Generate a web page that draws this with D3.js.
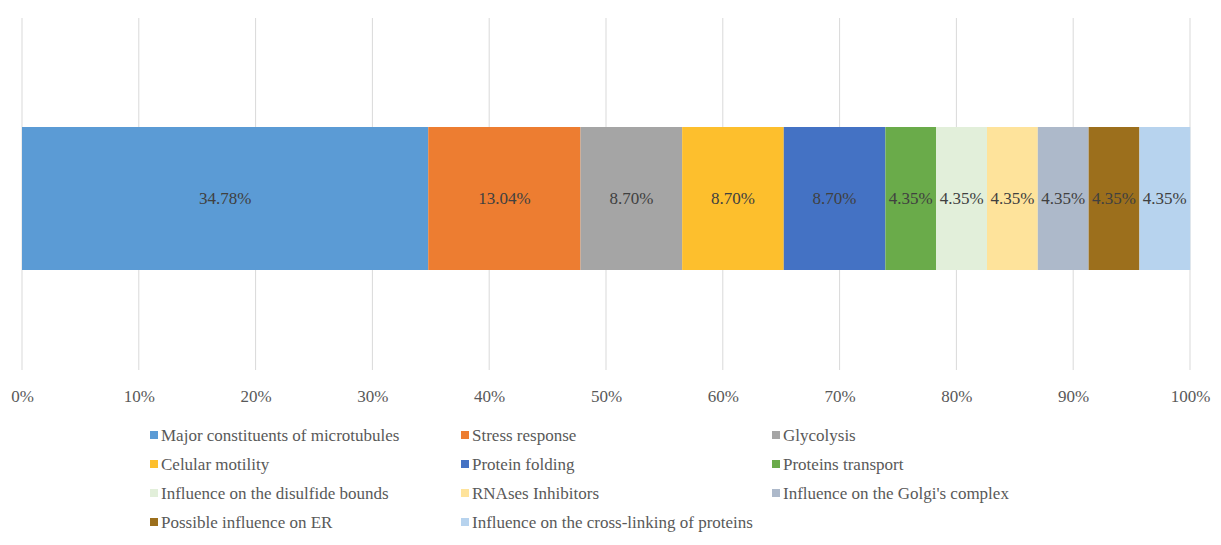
<!DOCTYPE html>
<html>
<head>
<meta charset="utf-8">
<script src="https://cdn.jsdelivr.net/npm/d3@7"></script>
</head>
<body style="margin:0">
<svg id="chart"></svg>
<script>
// Set the width and height of the chart
const width = 1221;
const height = 545;
const serif = "'Times New Roman'";

// Data
const categories = [
  "Major constituents of microtubules",
  "Stress response",
  "Glycolysis",
  "Celular motility",
  "Protein folding",
  "Proteins transport",
  "Influence on the disulfide bounds",
  "RNAses Inhibitors",
  "Influence on the Golgi's complex",
  "Possible influence on ER",
  "Influence on the cross-linking of proteins"
];
const values = [34.78, 13.04, 8.7, 8.7, 8.7, 4.35, 4.35, 4.35, 4.35, 4.35, 4.35];
const colors = [
  "#5b9bd5", "#ed7d31", "#a5a5a5", "#fdbf2d", "#4472c4", "#6aab4a",
  "#e2efda", "#fee39b", "#adb9ca", "#9c6f1c", "#b7d3ee"
];
const tickValues = [0, 10, 20, 30, 40, 50, 60, 70, 80, 90, 100];

// Build stacked segments from the values
let acc = 0;
const segments = values.map((v, i) => {
  const s = { name: categories[i], value: v, x0: acc, x1: acc + v, color: colors[i] };
  acc += v;
  return s;
});

// Scales
const xScale = d3.scaleLinear().domain([0, 100]).range([22, 1190]);
const yScale = d3.scaleBand().domain(["all"]).range([127, 270]).padding(0);

const svg = d3.select("#chart")
  .attr("width", width)
  .attr("height", height)
  .style("font-family", serif);

// Gridlines
svg.append("g")
  .selectAll("line")
  .data(tickValues)
  .enter()
  .append("line")
  .attr("x1", (d) => xScale(d))
  .attr("x2", (d) => xScale(d))
  .attr("y1", 18)
  .attr("y2", 370)
  .attr("stroke", "#d9d9d9")
  .attr("stroke-width", 1);

// Bars
svg.append("g")
  .selectAll("rect")
  .data(segments)
  .enter()
  .append("rect")
  .attr("x", (d) => xScale(d.x0))
  .attr("y", yScale("all"))
  .attr("width", (d) => xScale(d.x1) - xScale(d.x0))
  .attr("height", yScale.bandwidth())
  .attr("fill", (d) => d.color);

// Value labels
svg.append("g")
  .selectAll("text")
  .data(segments)
  .enter()
  .append("text")
  .attr("x", (d) => xScale((d.x0 + d.x1) / 2))
  .attr("y", yScale("all") + yScale.bandwidth() / 2)
  .attr("dy", "0.35em")
  .attr("text-anchor", "middle")
  .style("font-family", serif)
  .attr("font-size", 17)
  .attr("fill", "#404040")
  .text((d) => d.value.toFixed(2) + "%");

// X axis
const xAxis = d3.axisBottom(xScale)
  .tickValues(tickValues)
  .tickFormat((d) => d + "%")
  .tickSize(0)
  .tickPadding(0);

const axisG = svg.append("g")
  .attr("transform", "translate(0,390)")
  .call(xAxis);
axisG.attr("font-family", null).attr("font-size", null);
axisG.select(".domain").remove();
axisG.selectAll("text")
  .style("font-family", serif)
  .attr("font-size", 17)
  .attr("fill", "#595959");

// Legend
const legendCols = [150, 461, 772];
const legendRows = [435, 464, 493, 522];

const legendItems = svg.append("g")
  .selectAll("g")
  .data(segments)
  .enter()
  .append("g")
  .attr("transform", (d, i) => "translate(" + legendCols[i % 3] + "," + legendRows[Math.floor(i / 3)] + ")");

legendItems.append("rect")
  .attr("x", 0)
  .attr("y", -4)
  .attr("width", 8)
  .attr("height", 8)
  .attr("fill", (d) => d.color);

legendItems.append("text")
  .attr("x", 11)
  .attr("y", 0)
  .attr("dy", "0.35em")
  .style("font-family", serif)
  .attr("font-size", 17)
  .attr("fill", "#595959")
  .text((d) => d.name);
</script>
</body>
</html>
